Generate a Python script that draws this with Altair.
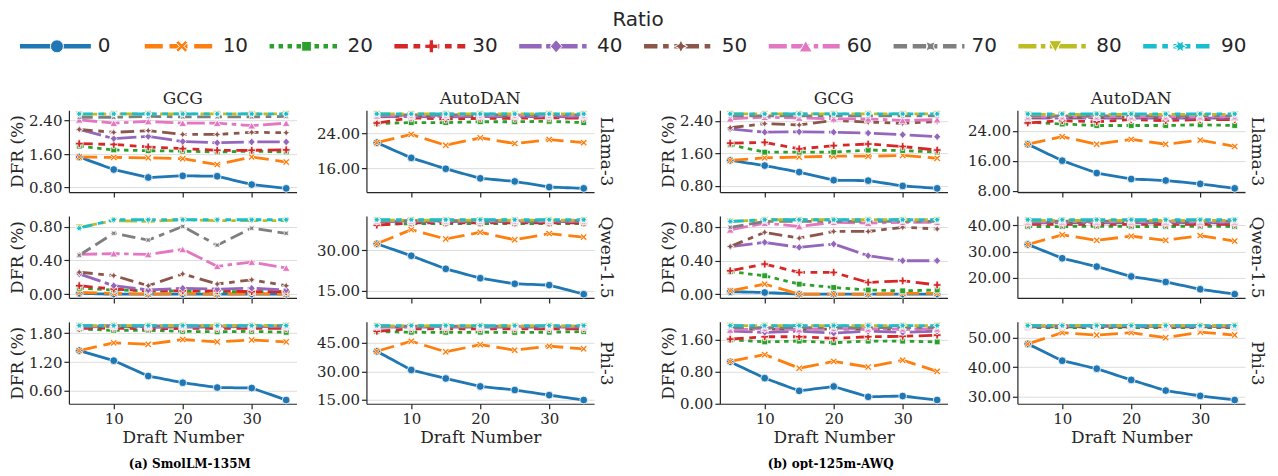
import math
import altair as alt
import pandas as pd

DRAFTS = [5, 10, 15, 20, 25, 30, 35]
RATIOS = [0, 10, 20, 30, 40, 50, 60, 70, 80, 90]
ATTACKS = ["GCG", "AutoDAN"]
MODELS = ["Llama-3", "Qwen-1.5", "Phi-3"]
CAPTIONS = ["(a) SmolLM-135M", "(b) opt-125m-AWQ"]
X_TICKS = [10, 20, 30]

# DFR (%) per panel: one row per ratio (0..90), columns = draft numbers 5..35
SMOL_GCG_LLAMA = [
    [1.53, 1.23, 1.04, 1.08, 1.07, 0.87, 0.78],
    [1.53, 1.52, 1.51, 1.49, 1.35, 1.53, 1.41],
    [1.79, 1.70, 1.68, 1.67, 1.65, 1.67, 1.65],
    [1.85, 1.83, 1.77, 1.73, 1.69, 1.69, 1.70],
    [2.19, 1.97, 2.02, 1.90, 1.87, 1.89, 1.89],
    [2.19, 2.12, 2.16, 2.07, 2.07, 2.12, 2.11],
    [2.42, 2.34, 2.38, 2.34, 2.34, 2.28, 2.34],
    [2.48, 2.48, 2.50, 2.49, 2.49, 2.49, 2.50],
    [2.55, 2.56, 2.56, 2.56, 2.56, 2.56, 2.56],
    [2.56, 2.56, 2.56, 2.56, 2.56, 2.56, 2.56],
]
SMOL_GCG_QWEN = [
    [0.01, 0.00, 0.00, 0.00, 0.00, 0.00, 0.00],
    [0.02, 0.01, 0.00, 0.01, 0.00, 0.01, 0.00],
    [0.07, 0.05, 0.04, 0.04, 0.03, 0.03, 0.03],
    [0.10, 0.06, 0.04, 0.04, 0.04, 0.03, 0.03],
    [0.24, 0.10, 0.05, 0.07, 0.06, 0.07, 0.05],
    [0.26, 0.22, 0.10, 0.24, 0.12, 0.17, 0.10],
    [0.47, 0.48, 0.47, 0.53, 0.33, 0.38, 0.31],
    [0.46, 0.72, 0.64, 0.80, 0.58, 0.78, 0.72],
    [0.79, 0.87, 0.86, 0.88, 0.87, 0.87, 0.87],
    [0.78, 0.88, 0.88, 0.88, 0.88, 0.88, 0.88],
]
SMOL_GCG_PHI = [
    [1.44, 1.23, 0.91, 0.77, 0.67, 0.66, 0.41],
    [1.44, 1.60, 1.57, 1.67, 1.62, 1.66, 1.62],
    [1.89, 1.86, 1.86, 1.84, 1.83, 1.84, 1.82],
    [1.90, 1.91, 1.89, 1.90, 1.90, 1.90, 1.90],
    [1.93, 1.94, 1.92, 1.93, 1.93, 1.94, 1.93],
    [1.94, 1.94, 1.94, 1.95, 1.94, 1.94, 1.94],
    [1.95, 1.95, 1.95, 1.95, 1.95, 1.95, 1.95],
    [1.95, 1.96, 1.95, 1.96, 1.95, 1.96, 1.96],
    [1.96, 1.96, 1.96, 1.96, 1.96, 1.96, 1.96],
    [1.96, 1.96, 1.96, 1.96, 1.96, 1.96, 1.96],
]
SMOL_AUTODAN_LLAMA = [
    [21.9, 18.4, 15.9, 13.7, 13.0, 11.7, 11.4],
    [21.9, 23.8, 21.3, 23.0, 21.7, 22.6, 21.9],
    [26.3, 26.5, 26.5, 26.7, 26.7, 26.8, 26.5],
    [26.4, 27.6, 27.3, 27.5, 27.5, 27.6, 27.5],
    [27.8, 27.9, 27.8, 27.9, 27.9, 27.9, 27.8],
    [28.0, 28.1, 28.0, 28.1, 28.0, 28.1, 28.0],
    [28.1, 28.2, 28.2, 28.2, 28.2, 28.2, 28.2],
    [28.3, 28.3, 28.3, 28.3, 28.3, 28.3, 28.3],
    [28.5, 28.5, 28.5, 28.5, 28.5, 28.5, 28.5],
    [28.5, 28.5, 28.5, 28.5, 28.5, 28.5, 28.5],
]
SMOL_AUTODAN_QWEN = [
    [32.5, 28.0, 23.1, 19.6, 17.5, 17.0, 13.6],
    [32.5, 37.8, 34.3, 36.8, 34.0, 36.3, 35.0],
    [40.0, 40.0, 40.1, 40.0, 40.1, 40.0, 40.1],
    [39.5, 40.3, 40.3, 40.3, 40.3, 40.3, 40.3],
    [40.8, 40.8, 40.8, 40.8, 40.8, 40.8, 40.8],
    [41.0, 41.0, 41.0, 41.0, 41.0, 41.0, 41.0],
    [41.1, 41.1, 41.1, 41.1, 41.1, 41.1, 41.1],
    [41.2, 41.2, 41.2, 41.2, 41.2, 41.2, 41.2],
    [41.4, 41.4, 41.4, 41.4, 41.4, 41.4, 41.4],
    [41.5, 41.5, 41.5, 41.5, 41.5, 41.5, 41.5],
]
SMOL_AUTODAN_PHI = [
    [40.6, 30.7, 26.2, 22.0, 20.1, 17.4, 14.8],
    [40.6, 45.9, 40.3, 44.1, 41.2, 43.3, 41.9],
    [51.0, 50.7, 50.6, 50.7, 50.6, 50.7, 51.0],
    [51.2, 52.5, 52.4, 52.5, 52.5, 52.5, 52.5],
    [53.4, 53.4, 53.4, 53.4, 53.4, 53.4, 53.4],
    [53.6, 53.6, 53.6, 53.6, 53.6, 53.6, 53.6],
    [53.8, 53.8, 53.8, 53.8, 53.8, 53.8, 53.8],
    [53.9, 53.9, 53.9, 53.9, 53.9, 53.9, 53.9],
    [54.1, 54.1, 54.1, 54.1, 54.1, 54.1, 54.1],
    [54.2, 54.2, 54.2, 54.2, 54.2, 54.2, 54.2],
]
OPT_GCG_LLAMA = [
    [1.43, 1.30, 1.14, 0.94, 0.93, 0.80, 0.74],
    [1.43, 1.49, 1.51, 1.53, 1.53, 1.55, 1.48],
    [1.81, 1.63, 1.63, 1.63, 1.68, 1.67, 1.63],
    [1.85, 1.87, 1.71, 1.79, 1.83, 1.77, 1.68],
    [2.20, 2.12, 2.13, 2.12, 2.10, 2.06, 2.01],
    [2.23, 2.33, 2.30, 2.41, 2.37, 2.34, 2.38],
    [2.45, 2.49, 2.47, 2.45, 2.45, 2.41, 2.43],
    [2.52, 2.52, 2.52, 2.52, 2.52, 2.52, 2.52],
    [2.57, 2.57, 2.57, 2.57, 2.57, 2.57, 2.57],
    [2.57, 2.57, 2.57, 2.57, 2.57, 2.57, 2.57],
]
OPT_GCG_QWEN = [
    [0.03, 0.02, 0.00, 0.00, 0.00, 0.00, 0.00],
    [0.04, 0.12, 0.00, 0.00, 0.00, 0.01, 0.01],
    [0.27, 0.22, 0.12, 0.08, 0.05, 0.04, 0.05],
    [0.28, 0.36, 0.26, 0.26, 0.14, 0.16, 0.11],
    [0.57, 0.62, 0.56, 0.60, 0.46, 0.40, 0.40],
    [0.57, 0.74, 0.67, 0.75, 0.75, 0.80, 0.78],
    [0.77, 0.85, 0.81, 0.86, 0.85, 0.86, 0.86],
    [0.80, 0.87, 0.87, 0.87, 0.87, 0.87, 0.87],
    [0.87, 0.89, 0.89, 0.89, 0.89, 0.89, 0.89],
    [0.87, 0.89, 0.89, 0.89, 0.89, 0.89, 0.89],
]
OPT_GCG_PHI = [
    [1.05, 0.64, 0.32, 0.43, 0.17, 0.19, 0.09],
    [1.06, 1.23, 0.89, 1.06, 0.92, 1.09, 0.81],
    [1.60, 1.55, 1.57, 1.53, 1.57, 1.57, 1.55],
    [1.62, 1.68, 1.68, 1.64, 1.68, 1.69, 1.72],
    [1.82, 1.79, 1.82, 1.77, 1.82, 1.79, 1.82],
    [1.87, 1.87, 1.87, 1.87, 1.87, 1.87, 1.87],
    [1.85, 1.89, 1.86, 1.89, 1.88, 1.88, 1.88],
    [1.91, 1.91, 1.91, 1.91, 1.91, 1.91, 1.91],
    [1.96, 1.96, 1.96, 1.96, 1.96, 1.96, 1.96],
    [1.96, 1.96, 1.96, 1.96, 1.96, 1.96, 1.96],
]
OPT_AUTODAN_LLAMA = [
    [20.4, 16.0, 12.7, 11.1, 10.7, 9.8, 8.6],
    [20.4, 22.4, 20.4, 21.7, 20.4, 21.5, 19.8],
    [26.3, 25.8, 25.4, 25.4, 25.4, 25.6, 25.4],
    [26.1, 26.7, 26.4, 27.0, 26.7, 27.0, 27.0],
    [27.4, 27.4, 27.4, 27.4, 27.4, 27.4, 27.4],
    [27.6, 27.6, 27.6, 27.6, 27.6, 27.6, 27.6],
    [27.8, 27.8, 27.8, 27.8, 27.8, 27.8, 27.8],
    [28.0, 28.0, 28.0, 28.0, 28.0, 28.0, 28.0],
    [28.4, 28.4, 28.4, 28.4, 28.4, 28.4, 28.4],
    [28.5, 28.5, 28.5, 28.5, 28.5, 28.5, 28.5],
]
OPT_AUTODAN_QWEN = [
    [32.7, 27.4, 24.2, 20.4, 18.3, 15.5, 13.6],
    [32.7, 36.4, 34.3, 35.9, 34.3, 36.1, 34.0],
    [39.6, 39.6, 39.7, 39.6, 39.6, 39.7, 39.6],
    [40.4, 40.4, 40.4, 40.4, 40.4, 40.4, 40.4],
    [41.0, 41.0, 41.0, 41.0, 41.0, 41.0, 41.0],
    [41.3, 41.3, 41.3, 41.3, 41.3, 41.3, 41.3],
    [41.5, 41.5, 41.5, 41.5, 41.5, 41.5, 41.5],
    [41.7, 41.7, 41.7, 41.7, 41.7, 41.7, 41.7],
    [42.0, 42.0, 42.0, 42.0, 42.0, 42.0, 42.0],
    [42.2, 42.2, 42.2, 42.2, 42.2, 42.2, 42.2],
]
OPT_AUTODAN_PHI = [
    [47.9, 42.2, 39.5, 35.7, 32.1, 30.3, 28.9],
    [47.9, 51.7, 50.9, 51.7, 50.0, 51.9, 50.9],
    [53.4, 53.4, 53.4, 53.4, 53.4, 53.4, 53.4],
    [53.7, 53.7, 53.7, 53.7, 53.7, 53.7, 53.7],
    [53.8, 53.8, 53.8, 53.8, 53.8, 53.8, 53.8],
    [53.9, 53.9, 53.9, 53.9, 53.9, 53.9, 53.9],
    [54.0, 54.0, 54.0, 54.0, 54.0, 54.0, 54.0],
    [54.0, 54.0, 54.0, 54.0, 54.0, 54.0, 54.0],
    [54.1, 54.1, 54.1, 54.1, 54.1, 54.1, 54.1],
    [54.1, 54.1, 54.1, 54.1, 54.1, 54.1, 54.1],
]

SMOL_PANELS = [SMOL_GCG_LLAMA, SMOL_AUTODAN_LLAMA, SMOL_GCG_QWEN,
               SMOL_AUTODAN_QWEN, SMOL_GCG_PHI, SMOL_AUTODAN_PHI]
OPT_PANELS = [OPT_GCG_LLAMA, OPT_AUTODAN_LLAMA, OPT_GCG_QWEN,
              OPT_AUTODAN_QWEN, OPT_GCG_PHI, OPT_AUTODAN_PHI]
SMOL_YTICKS = [[0.8, 1.6, 2.4], [16, 24], [0.0, 0.4, 0.8],
               [15, 30], [0.6, 1.2, 1.8], [15, 30, 45]]
OPT_YTICKS = [[0.8, 1.6, 2.4], [8, 16, 24], [0.0, 0.4, 0.8],
              [20, 30, 40], [0.0, 0.8, 1.6], [30, 40, 50]]

# ---- styles ----
SERIF = "DejaVu Serif"
INK = "#262626"
COLORS = ["#1f77b4", "#ff7f0e", "#2ca02c", "#d62728", "#9467bd",
          "#8c564b", "#e377c2", "#7f7f7f", "#bcbd22", "#17becf"]
DASH_UNITS = [[1, 0], [4, 1.5], [1, 1], [3, 1.25, 1.5, 1.25], [5, 1, 1, 1],
              [3, 1.25, 1.25, 1.25, 1.25, 1.25], [4, 1, 4, 1, 1, 1],
              [3, 1.25, 3, 1.25, 1.25, 1.25], [4, 1, 1, 1, 1, 1],
              [3, 1.25, 1.25, 1.25, 1.25, 1.25, 1.25, 1.25]]


def star(n, inner, rot):
    pts = []
    for k in range(2 * n):
        r = 1.0 if k % 2 == 0 else inner
        a = math.radians(rot + k * 180.0 / n)
        pts.append((r * math.sin(a), -r * math.cos(a)))
    return "M" + "L".join(f"{x:.3f},{y:.3f}" for x, y in pts) + "Z"


SHAPES = [
    "circle",
    "M-0.9,-0.55L-0.55,-0.9L0,-0.35L0.55,-0.9L0.9,-0.55L0.35,0L0.9,0.55L0.55,0.9L0,0.35L-0.55,0.9L-0.9,0.55L-0.35,0Z",
    "M-0.75,-0.75L0.75,-0.75L0.75,0.75L-0.75,0.75Z",
    "M-0.33,-1L0.33,-1L0.33,-0.33L1,-0.33L1,0.33L0.33,0.33L0.33,1L-0.33,1L-0.33,0.33L-1,0.33L-1,-0.33L-0.33,-0.33Z",
    "M0,-1L0.9,0L0,1L-0.9,0Z",
    star(4, 0.45, 0),
    "triangle-up",
    star(4, 0.45, 45),
    "triangle-down",
    star(6, 0.5, 30),
]

RATIO_STR = [str(r) for r in RATIOS]
LW = 2.8
PW, PH = 228, 82


def color_enc(field="Ratio:N"):
    return alt.Color(field, scale=alt.Scale(domain=RATIO_STR, range=COLORS), legend=None)


def dash_enc(lw, field="Ratio:N"):
    return alt.StrokeDash(field, scale=alt.Scale(
        domain=RATIO_STR, range=[[v * lw for v in d] for d in DASH_UNITS]), legend=None)


def shape_enc(field="Ratio:N"):
    return alt.Shape(field, scale=alt.Scale(domain=RATIO_STR, range=SHAPES), legend=None)


def panel(values, yticks, attack, model, top, bottom, caption, cap_dx):
    rows = []
    for r, series in zip(RATIOS, values):
        for d, v in zip(DRAFTS, series):
            rows.append({"Draft": d, "Ratio": str(r), "DFR": v})
    df = pd.DataFrame(rows)
    lo = min(min(s) for s in values)
    hi = max(max(s) for s in values)
    pad = 0.05 * (hi - lo)
    ydom = [lo - pad, hi + pad]
    xax = alt.Axis(values=X_TICKS, labels=bottom, grid=False, labelPadding=3,
                   title="Draft Number" if bottom else "", titlePadding=3)
    x = alt.X("Draft:Q", scale=alt.Scale(domain=[3.5, 36.5], nice=False, zero=False), axis=xax)
    y = alt.Y("DFR:Q", scale=alt.Scale(domain=ydom, nice=False, zero=False),
              axis=alt.Axis(values=yticks, format=".2f", grid=True, titlePadding=2,
                            title="DFR (%)" if attack == "GCG" else ""))
    lines = alt.Chart(df).mark_line(strokeWidth=LW).encode(
        x=x, y=y, color=color_enc(), strokeDash=dash_enc(LW))
    pts = alt.Chart(df).mark_point(filled=True, size=60, stroke="white",
                                   strokeWidth=0.8, opacity=1).encode(
        x=x, y=y, color=color_enc(), shape=shape_enc())
    ch = alt.layer(lines, pts)
    if attack == "AutoDAN":
        hidden = alt.Chart(df).mark_point(opacity=0).encode(
            y=alt.Y("DFR:Q", scale=alt.Scale(domain=ydom, nice=False, zero=False),
                    axis=alt.Axis(orient="right", title=model, labels=False, ticks=False,
                                  domain=False, grid=False, titleAngle=90,
                                  titlePadding=2, titleFontSize=17)))
        ch = alt.layer(ch, hidden).resolve_scale(y="independent")
    props = dict(width=PW, height=PH)
    if top:
        props["title"] = alt.TitleParams(attack, fontSize=17, font=SERIF, fontWeight="normal",
                                         color=INK, offset=0)
    if caption:
        props["title"] = alt.TitleParams(caption, orient="bottom", anchor="start", frame="group",
                                         dx=cap_dx, offset=13, fontSize=12, font=SERIF,
                                         fontWeight="bold", color="black")
    return ch.properties(**props)


def group(panels, yticks, caption, cap_dx):
    charts = []
    for i, (vals, yt) in enumerate(zip(panels, yticks)):
        r, c = divmod(i, 2)
        charts.append(panel(vals, yt, ATTACKS[c], MODELS[r], r == 0, r == 2,
                            caption if (r == 2 and c == 0) else None, cap_dx))
    return alt.concat(*charts, columns=2, spacing={"row": 24, "column": 70}, bounds="flush")


# ---- legend built from the category arrays (x position from a Ratio scale) ----
LEG_LW = 4.5
leg_df = pd.DataFrame({"Ratio": RATIO_STR, "RatioVal": RATIOS})
lx = alt.X("RatioVal:Q", scale=alt.Scale(domain=[0, 90], range=[-12, 1113], nice=False, zero=False),
           axis=None)
leg_rule = alt.Chart(leg_df).mark_rule(strokeWidth=LEG_LW, xOffset=-37, x2Offset=34).encode(
    x=lx, x2=alt.X2("RatioVal"), y=alt.value(10), color=color_enc(), strokeDash=dash_enc(LEG_LW))
leg_pts = alt.Chart(leg_df).mark_point(filled=True, size=170, stroke="white", strokeWidth=1,
                                       opacity=1).encode(
    x=lx, y=alt.value(10), color=color_enc(), shape=shape_enc())
leg_txt = alt.Chart(leg_df).mark_text(align="left", baseline="middle", dx=41, fontSize=20,
                                      font="DejaVu Sans", color=INK).encode(
    x=lx, y=alt.value(10), text="Ratio:N")
legend = alt.layer(leg_rule, leg_pts, leg_txt).properties(
    width=1140, height=20,
    title=alt.TitleParams("Ratio", fontSize=20, font="DejaVu Sans", fontWeight="normal",
                          color=INK, anchor="middle", offset=6))

grid = alt.hconcat(group(SMOL_PANELS, SMOL_YTICKS, CAPTIONS[0], 60),
                   group(OPT_PANELS, OPT_YTICKS, CAPTIONS[1], 48), spacing=45)

chart = alt.vconcat(legend, grid, spacing=34).properties(
    padding={"left": 0, "top": 2, "right": 5, "bottom": 0}
).configure_view(stroke=None).configure_axis(
    labelFont=SERIF, labelFontSize=15, labelColor=INK,
    titleFont=SERIF, titleFontSize=17, titleFontWeight="normal", titleColor=INK,
    domainColor=INK, domainWidth=1.2, tickColor=INK, tickSize=5, tickWidth=1.2,
    gridColor="#dddddd", gridWidth=1, labelPadding=2,
)

chart.save("out.html", embed_options={"renderer": "svg", "actions": False})
